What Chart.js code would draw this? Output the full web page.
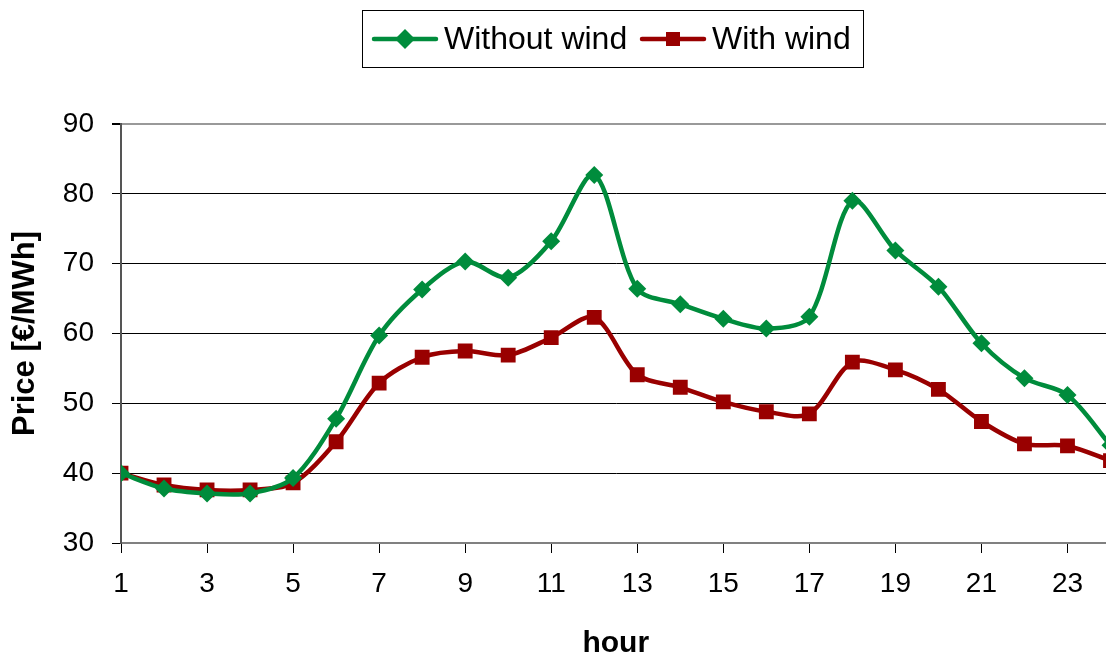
<!DOCTYPE html>
<html lang="en">
<head>
    <meta charset="UTF-8">
    <title>Price with and without wind</title>
    <script src="https://cdn.jsdelivr.net/npm/chart.js"></script>
    <style>
        html, body {
            margin: 0;
            padding: 0;
            background: #fff;
            overflow: hidden;
        }
        .wrap {
            width: 1106px;
            height: 659px;
            overflow: hidden;
        }
    </style>
</head>
<body>
<div class="wrap">
    <canvas id="chart" width="1121" height="659"></canvas>
</div>

<script>
    const hours = [1, 2, 3, 4, 5, 6, 7, 8, 9, 10, 11, 12, 13, 14, 15, 16, 17, 18, 19, 20, 21, 22, 23, 24];
    const withoutWind = [40.0, 37.8, 37.1, 37.1, 39.3, 47.8, 59.7, 66.3, 70.3, 68.0, 73.2, 82.7,
                         66.4, 64.2, 62.1, 60.7, 62.4, 79.0, 71.9, 66.7, 58.6, 53.6, 51.2, 44.0];
    const withWind = [40.0, 38.3, 37.6, 37.6, 38.6, 44.5, 52.9, 56.6, 57.5, 56.9, 59.4, 62.3,
                      54.1, 52.3, 50.2, 48.8, 48.5, 55.9, 54.8, 52.0, 47.4, 44.2, 43.9, 41.8];
    const xTicks = [1, 3, 5, 7, 9, 11, 13, 15, 17, 19, 21, 23];
    const yTicks = [30, 40, 50, 60, 70, 80, 90];

    const FONT = '"Liberation Sans", Arial, sans-serif';
    const GREEN = '#008C3C';
    const RED = '#990000';

    // legend with a frame, drawn by hand (Chart.js legend has no box)
    const boxLegend = {
        id: 'boxLegend',
        afterDraw(chart) {
            const ctx = chart.ctx;
            ctx.save();
            ctx.strokeStyle = '#000';
            ctx.lineWidth = 1;
            ctx.strokeRect(362.5, 10.5, 501, 57);
            const items = [
                {x: 372, text: 444},
                {x: 640, text: 712}
            ];
            const cy = 39;
            chart.data.datasets.forEach((ds, i) => {
                const it = items[i];
                ctx.strokeStyle = ds.borderColor;
                ctx.lineWidth = 4.5;
                ctx.lineCap = 'round';
                ctx.beginPath();
                ctx.moveTo(it.x + 2, cy);
                ctx.lineTo(it.x + 64, cy);
                ctx.stroke();
                const mx = it.x + 33;
                ctx.fillStyle = ds.borderColor;
                ctx.beginPath();
                if (ds.pointStyle === 'rectRot') {
                    ctx.moveTo(mx - 10, cy);
                    ctx.lineTo(mx, cy - 10);
                    ctx.lineTo(mx + 10, cy);
                    ctx.lineTo(mx, cy + 10);
                } else {
                    ctx.rect(mx - 7, cy - 7, 14, 14);
                }
                ctx.closePath();
                ctx.fill();
                ctx.fillStyle = '#000';
                ctx.font = '32px ' + FONT;
                ctx.textBaseline = 'middle';
                ctx.textAlign = 'left';
                ctx.fillText(ds.label, it.text, cy + 1);
            });
            ctx.restore();
        }
    };

    new Chart(document.getElementById('chart'), {
        type: 'line',
        data: {
            datasets: [
                {
                    label: 'Without wind',
                    data: hours.map((h, i) => ({x: h, y: withoutWind[i]})),
                    borderColor: GREEN,
                    backgroundColor: GREEN,
                    borderWidth: 4.5,
                    tension: 0.3,
                    pointStyle: 'rectRot',
                    pointRadius: 9,
                    pointBorderWidth: 0,
                    pointHoverRadius: 9
                },
                {
                    label: 'With wind',
                    data: hours.map((h, i) => ({x: h, y: withWind[i]})),
                    borderColor: RED,
                    backgroundColor: RED,
                    borderWidth: 4.5,
                    tension: 0.3,
                    pointStyle: 'rect',
                    pointRadius: 10.5,
                    pointBorderWidth: 0,
                    pointHoverRadius: 10.5
                }
            ]
        },
        options: {
            responsive: false,
            animation: false,
            events: [],
            layout: {
                padding: {top: 124, right: 2, bottom: 0, left: 0}
            },
            plugins: {
                legend: {display: false},
                tooltip: {enabled: false}
            },
            scales: {
                x: {
                    type: 'linear',
                    min: 1,
                    max: 24,
                    afterBuildTicks: scale => {
                        scale.ticks = xTicks.map(v => ({value: v}));
                    },
                    afterFit: scale => {
                        scale.height = 116;
                    },
                    border: {color: '#808080', width: 2},
                    grid: {
                        drawOnChartArea: false,
                        drawTicks: true,
                        tickLength: 10,
                        tickColor: '#000',
                        tickWidth: 1
                    },
                    ticks: {
                        color: '#000',
                        padding: 14,
                        maxRotation: 0,
                        autoSkip: false,
                        font: {family: FONT, size: 28}
                    },
                    title: {
                        display: true,
                        text: 'hour',
                        color: '#000',
                        padding: {top: 0, bottom: 0},
                        font: {family: FONT, size: 30, weight: 'bold', lineHeight: 1}
                    }
                },
                y: {
                    min: 30,
                    max: 90,
                    afterBuildTicks: scale => {
                        scale.ticks = yTicks.map(v => ({value: v}));
                    },
                    afterFit: scale => {
                        scale.width = 121;
                    },
                    border: {color: '#555', width: 2},
                    grid: {
                        color: ctx => ctx.tick.value === 90 ? '#999' : (ctx.tick.value === 30 ? '#808080' : '#000'),
                        lineWidth: ctx => ctx.tick.value === 90 ? 2 : 1,
                        tickColor: '#000',
                        tickLength: 9
                    },
                    ticks: {
                        color: '#000',
                        padding: 18,
                        font: {family: FONT, size: 28}
                    },
                    title: {
                        display: true,
                        text: 'Price [€/MWh]',
                        color: '#000',
                        padding: {top: 10, bottom: 0},
                        font: {family: FONT, size: 31, weight: 'bold', lineHeight: 1}
                    }
                }
            }
        },
        plugins: [boxLegend]
    });
</script>
</body>
</html>
